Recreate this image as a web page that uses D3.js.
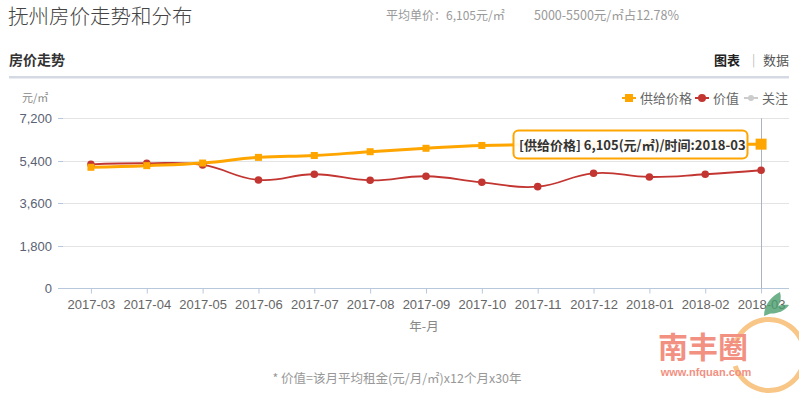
<!DOCTYPE html>
<html><head><meta charset="utf-8">
<script src="https://cdn.jsdelivr.net/npm/d3@7"></script>
<style>
html,body{margin:0;padding:0;background:#fff;}
svg{display:block;font-family:"Noto Sans CJK SC","Microsoft YaHei",sans-serif;}
</style></head>
<body><svg id="c" width="799" height="394"></svg>
<script>
const months = ["2017-03","2017-04","2017-05","2017-06","2017-07","2017-08","2017-09","2017-10","2017-11","2017-12","2018-01","2018-02","2018-03"];
const supplyPrice = [5125,5195,5305,5545,5625,5785,5930,6050,6080,6090,6095,6100,6105];
const valuePrice = [5250,5295,5225,4590,4830,4575,4745,4490,4305,4870,4715,4830,5000];
const yTicks = [0,1800,3600,5400,7200];
const legendItems = [
  {name:"供给价格", color:"#ffa500", shape:"square"},
  {name:"价值", color:"#c23531", shape:"circle"},
  {name:"关注", color:"#cccccc", shape:"circle"}
];

const svg = d3.select("#c");

// Header
svg.append("text").attr("x",8).attr("y",24).attr("font-size",20.5).attr("fill","#444").attr("font-weight",300).text("抚州房价走势和分布");
svg.append("text").attr("x",386).attr("y",20).attr("font-size",12).attr("fill","#999").text("平均单价：6,105元/㎡");
svg.append("text").attr("x",534).attr("y",20).attr("font-size",12.5).attr("fill","#999").text("5000-5500元/㎡占12.78%");
svg.append("text").attr("x",9).attr("y",65).attr("font-size",14).attr("font-weight",700).attr("fill","#333").text("房价走势");
svg.append("text").attr("x",714).attr("y",65).attr("font-size",13).attr("font-weight",700).attr("fill","#222").text("图表");
svg.append("text").attr("x",752).attr("y",64).attr("font-size",12).attr("fill","#bbb").text("|");
svg.append("text").attr("x",763).attr("y",65).attr("font-size",13).attr("fill","#555").text("数据");
svg.append("rect").attr("x",9).attr("y",76).attr("width",780).attr("height",2.5).attr("fill","#d5d9e4");

// Scales
const x = d3.scalePoint().domain(months).range([63,789]).padding(0.5);
const y = d3.scaleLinear().domain([0,7200]).range([288.3,118.3]);
const left = 58, right = 789;

// grid
svg.append("g").selectAll("line").data(yTicks.filter(d=>d>0)).join("line")
  .attr("x1",left).attr("x2",right).attr("y1",d=>Math.round(y(d))+0.5).attr("y2",d=>Math.round(y(d))+0.5)
  .attr("stroke","#e3e3e3");
svg.append("g").selectAll("line").data(yTicks).join("line")
  .attr("x1",left).attr("x2",left+5).attr("y1",d=>Math.round(y(d))+0.5).attr("y2",d=>Math.round(y(d))+0.5)
  .attr("stroke","#b8c8dc");
svg.append("g").selectAll("text").data(yTicks).join("text")
  .attr("x",52).attr("y",d=>y(d)+5).attr("text-anchor","end").attr("font-size",13)
  .attr("font-family","Arial, Liberation Sans, sans-serif").attr("fill","#5a6273").text(d=>d3.format(",")(d));
svg.append("text").attr("x",22).attr("y",102).attr("font-size",11).attr("fill","#888").text("元/㎡");

// x axis
const xAxis = d3.axisBottom(x).tickSize(5).tickPadding(6);
const gx = svg.append("g").attr("transform",`translate(0,${Math.round(y(0))+0.5})`).call(xAxis);
gx.select(".domain").attr("d",`M${left},0H${right}`).attr("stroke","#b8c8dc");
gx.selectAll(".tick line").attr("stroke","#b8c8dc");
gx.selectAll(".tick text").attr("font-size",13).attr("fill","#666").attr("font-family","Arial, Liberation Sans, sans-serif");
svg.append("text").attr("x",424).attr("y",331).attr("text-anchor","middle").attr("font-size",12.5).attr("fill","#888").text("年-月");

// axis pointer line
const lastX = x(months[months.length-1]);
svg.append("line").attr("x1",Math.round(lastX)+0.5).attr("x2",Math.round(lastX)+0.5).attr("y1",y(7200)).attr("y2",y(0))
  .attr("stroke","#aab3c0").attr("stroke-width",1);

// lines
const curve = d3.curveCardinal.tension(-0.3);
const lineGen = arr => d3.line().x((d,i)=>x(months[i])).y(d=>y(d)).curve(curve)(arr);
svg.append("path").attr("d",lineGen(valuePrice)).attr("fill","none").attr("stroke","#c23531").attr("stroke-width",1.8);
svg.append("path").attr("d",lineGen(supplyPrice)).attr("fill","none").attr("stroke","#ffa500").attr("stroke-width",3);

svg.append("g").selectAll("circle").data(valuePrice).join("circle")
  .attr("cx",(d,i)=>x(months[i])).attr("cy",d=>y(d)).attr("r",3.8).attr("fill","#c23531");
svg.append("g").selectAll("rect").data(supplyPrice).join("rect")
  .attr("x",(d,i)=>x(months[i])-(i===12?5.5:3.5)).attr("y",(d,i)=>y(d)-(i===12?5.5:3.5))
  .attr("width",(d,i)=>i===12?11:7).attr("height",(d,i)=>i===12?11:7).attr("fill","#ffa500");

// legend
const lg = svg.append("g");
const lx = [622, 695, 744];
legendItems.forEach((it,i)=>{
  const g = lg.append("g").attr("transform",`translate(${lx[i]},98)`);
  g.append("line").attr("x1",0).attr("x2",14).attr("y1",0).attr("y2",0).attr("stroke",it.color).attr("stroke-width",2);
  if(it.shape==="square") g.append("rect").attr("x",3).attr("y",-4).attr("width",8).attr("height",8).attr("fill",it.color);
  else g.append("circle").attr("cx",7).attr("cy",0).attr("r",i===2?3:4).attr("fill",it.color);
  g.append("text").attr("x",18).attr("y",5).attr("font-size",13).attr("fill","#666").text(it.name);
});

// tooltip
const tip = svg.append("g");
tip.append("rect").attr("x",513.5).attr("y",130.5).attr("width",234).attr("height",28).attr("rx",5)
  .attr("fill","rgba(255,255,255,0.92)").attr("stroke","#ffa500").attr("stroke-width",2);
tip.append("text").attr("x",519).attr("y",150).attr("font-size",13).attr("font-weight",700).attr("fill","#333")
  .text(`[供给价格] ${d3.format(",")(supplyPrice[12])}(元/㎡)/时间:${months[12]}`);

// footnote
svg.append("text").attr("x",397).attr("y",383).attr("text-anchor","middle").attr("font-size",12.5).attr("fill","#999")
  .text("* 价值=该月平均租金(元/月/㎡)x12个月x30年");

// watermark
const wm = svg.append("g").attr("opacity",0.8);
wm.append("path").attr("d",d3.arc()({innerRadius:33,outerRadius:38,startAngle:-1.25,endAngle:4.4})).attr("transform","translate(769,355)").attr("fill","#f7b868");
wm.append("path").attr("d","M764,316 C764,304 772,296 780,292 C783,302 777,312 764,316 Z").attr("fill","#4a9e6e");
wm.append("path").attr("d","M766,313 C772,307 780,304 789,305 C784,312 774,315 766,313 Z").attr("fill","#4a9e6e");
wm.append("text").attr("x",703).attr("y",358).attr("text-anchor","middle").attr("font-size",30).attr("font-weight",700).attr("fill","#ef7563").text("南丰圈");
wm.append("text").attr("x",706).attr("y",376).attr("text-anchor","middle").attr("font-size",11).attr("font-weight",700).attr("fill","#ef7563").attr("font-family","Arial, sans-serif").text("www.nfquan.com");
</script></body></html>
